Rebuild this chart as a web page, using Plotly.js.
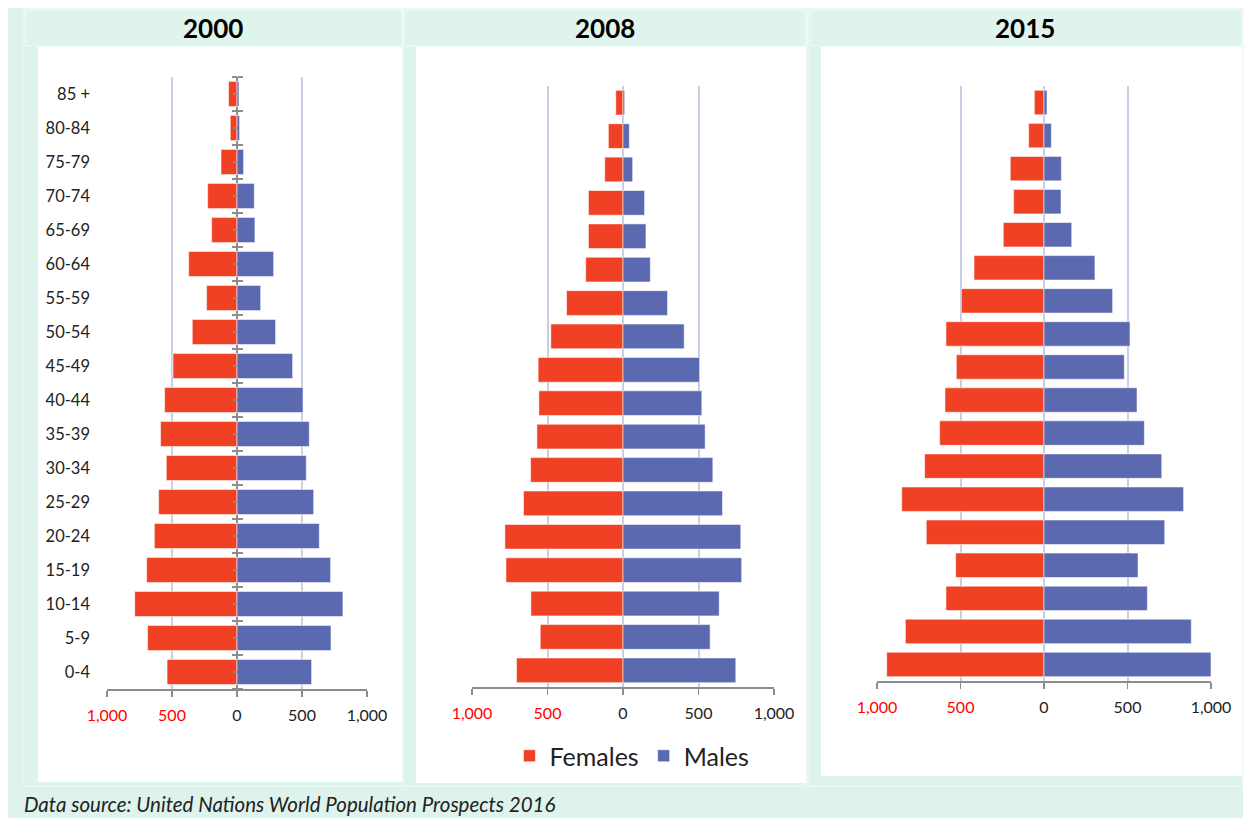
<!DOCTYPE html>
<html>
<head>
<meta charset="utf-8">
<script src="https://cdn.plot.ly/plotly-3.0.1.min.js"></script>
<style>html,body{margin:0;padding:0;background:#fff;}#chart{width:1244px;height:818px;}</style>
</head>
<body>
<div id="chart"></div>
<script>
// ---- data (thousands) ----
const ageGroups = ["0-4","5-9","10-14","15-19","20-24","25-29","30-34","35-39","40-44","45-49","50-54","55-59","60-64","65-69","70-74","75-79","80-84","85 +"];
const years = ["2000","2008","2015"];
const females2000 = [538,688,787,695,636,603,544,588,557,492,344,234,372,195,226,123,52,65];
const males2000   = [574,723,815,720,633,590,533,556,508,428,297,182,282,138,133,51,20,15];
const females2008 = [705,548,610,775,782,659,612,570,557,562,478,374,247,229,229,121,97,48];
const males2008   = [747,577,637,786,780,659,595,544,522,507,405,295,181,152,143,64,42,11];
const females2015 = [942,830,587,529,705,852,715,625,593,525,587,495,419,244,182,202,92,58];
const males2015   = [1000,882,619,563,723,836,705,601,557,481,515,411,305,166,102,104,44,18];
const xTickVals = [-1000,-500,0,500,1000];
const xTickText = xTickVals.map(v => {
  const s = Math.abs(v).toLocaleString('en-US');
  return v < 0 ? '<span style="color:#FF0000">' + s + '</span>' : s;
});
const seriesNames = ["Females","Males"];

// ---- layout helpers ----
const W = 1244, H = 818;
const X = p => p / W;
const Y = p => 1 - p / H;
const FEM = '#F04124', MAL = '#5B69B0';
const FONT = 'Lato, "Open Sans", sans-serif';

const femaleSets = [females2000, females2008, females2015];
const maleSets = [males2000, males2008, males2015];

const traces = [];
for (let i = 0; i < 3; i++) {
  const xa = i === 0 ? 'x' : 'x' + (i + 1);
  const ya = i === 0 ? 'y' : 'y' + (i + 1);
  traces.push({
    type: 'bar', orientation: 'h', name: seriesNames[0],
    y: ageGroups, x: femaleSets[i].map(v => -v),
    xaxis: xa, yaxis: ya, width: 0.74,
    marker: {color: FEM, line: {color: 'rgba(255,255,255,0.55)', width: 1}},
    showlegend: i === 1, legendgroup: 'f', hoverinfo: 'skip'
  });
  traces.push({
    type: 'bar', orientation: 'h', name: seriesNames[1],
    y: ageGroups, x: maleSets[i],
    xaxis: xa, yaxis: ya, width: 0.74,
    marker: {color: MAL, line: {color: 'rgba(255,255,255,0.55)', width: 1}},
    showlegend: i === 1, legendgroup: 'm', hoverinfo: 'skip'
  });
}
// helper invisible traces to host the tick axes on the 2000 zero line
['y4','y5','y6'].forEach(ya => traces.push({type:'scatter', mode:'none', x:[0], y:[0], xaxis:'x', yaxis:ya, showlegend:false, hoverinfo:'skip'}));

const panels = [
  {xd:[107,367], yd:[77,689]},
  {xd:[472,774], yd:[86,687]},
  {xd:[877,1211], yd:[86,681]}
];

function xAxis(i) {
  const p = panels[i];
  return {
    domain: [X(p.xd[0]), X(p.xd[1])],
    anchor: i === 0 ? 'y' : 'y' + (i + 1),
    range: [-1000, 1000], fixedrange: true,
    tickmode: 'array', tickvals: xTickVals, ticktext: xTickText,
    tickfont: {family: FONT, size: 16, color: '#222'},
    ticks: 'outside', ticklen: 6, tickwidth: 1.5, tickcolor: '#8C8C8C',
    ticklabelstandoff: 5,
    showline: true, linecolor: '#8C8C8C', linewidth: 2,
    showgrid: true, gridcolor: '#C9CEE6', gridwidth: 2,
    zeroline: true, zerolinecolor: i === 0 ? '#8C8C8C' : '#C9CEE6', zerolinewidth: 2
  };
}
function yAxis(i) {
  const p = panels[i];
  return {
    domain: [Y(p.yd[1]), Y(p.yd[0])],
    anchor: i === 0 ? 'x' : 'x' + (i + 1),
    type: 'category', categoryorder: 'array', categoryarray: ageGroups,
    range: [-0.5, ageGroups.length - 0.5], fixedrange: true,
    showticklabels: i === 0, ticks: '', ticklabelstandoff: 16,
    tickfont: {family: FONT, size: 16.5, color: '#222'},
    showgrid: false, zeroline: false, showline: false
  };
}
const boundaries = ageGroups.map((_, k) => k - 0.5).concat([ageGroups.length - 0.5]);
const centers = ageGroups.map((_, k) => k);
const zeroPos = X((panels[0].xd[0] + panels[0].xd[1]) / 2);
function tickAxis(side, vals, len) {
  return {
    overlaying: 'y', anchor: 'free', position: zeroPos, side: side,
    range: [-0.5, ageGroups.length - 0.5], fixedrange: true,
    tickmode: 'array', tickvals: vals, ticks: 'outside', ticklen: len,
    tickcolor: '#8C8C8C', tickwidth: 1.5,
    showticklabels: false, showgrid: false, zeroline: false, showline: false
  };
}

const rect = (x0, y0, x1, y1, fill, line) => ({
  type: 'rect', xref: 'paper', yref: 'paper', layer: 'below',
  x0: X(x0), x1: X(x1), y0: Y(y1), y1: Y(y0),
  fillcolor: fill, line: line ? {color: line, width: 1} : {width: 0}
});
const MINT = '#DEF3EC';
const shapes = [
  rect(0, 0, W, 8, '#FFFFFF'),
  rect(0, 0, 8, H, '#FFFFFF'),
  rect(1243, 0, W, H, '#FFFFFF'),
  rect(23, 9, 403, 786, MINT, '#F2FAF7'),
  rect(403, 9, 807, 786, MINT, '#F2FAF7'),
  rect(808, 9, 1243, 786, MINT, '#F2FAF7'),
  rect(25, 10, 402, 46, '#E0F4EE', '#F4FBF8'),
  rect(404, 10, 806, 46, '#E0F4EE', '#F4FBF8'),
  rect(810, 10, 1242, 46, '#E0F4EE', '#F4FBF8'),
  rect(38, 47, 402, 782, '#FFFFFF'),
  rect(416, 47, 806, 783, '#FFFFFF'),
  rect(821, 47, 1242, 776, '#FFFFFF')
];

const titleCenters = [213, 605, 1025];
const annotations = years.map((yr, i) => ({
  xref: 'paper', yref: 'paper', x: X(titleCenters[i]), y: Y(28),
  xanchor: 'center', yanchor: 'middle', showarrow: false,
  text: '<b>' + yr + '</b>', font: {family: FONT, size: 26, color: '#000'}
}));
annotations.push({
  xref: 'paper', yref: 'paper', x: X(22), y: Y(804),
  xanchor: 'left', yanchor: 'middle', showarrow: false,
  text: '<i>Data source: United Nations World Population Prospects 2016</i>',
  font: {family: FONT, size: 20.5, color: '#222'}
});

const layout = {
  width: W, height: H,
  margin: {l: 0, r: 0, t: 0, b: 0, pad: 0},
  paper_bgcolor: MINT, plot_bgcolor: 'rgba(0,0,0,0)',
  barmode: 'overlay', bargap: 0.26,
  font: {family: FONT, color: '#222'},
  showlegend: true,
  legend: {
    orientation: 'h', x: X(632), xanchor: 'center', y: Y(756), yanchor: 'middle',
    font: {family: FONT, size: 25, color: '#222'}, bgcolor: 'rgba(0,0,0,0)',
    traceorder: 'normal', itemclick: false, itemdoubleclick: false
  },
  xaxis: xAxis(0), xaxis2: xAxis(1), xaxis3: xAxis(2),
  yaxis: yAxis(0), yaxis2: yAxis(1), yaxis3: yAxis(2),
  yaxis4: tickAxis('left', boundaries, 5),
  yaxis5: tickAxis('right', boundaries, 5),
  yaxis6: tickAxis('left', centers, 4),
  shapes: shapes,
  annotations: annotations
};

Plotly.newPlot('chart', traces, layout, {displayModeBar: false, staticPlot: true});
</script>
</body>
</html>
